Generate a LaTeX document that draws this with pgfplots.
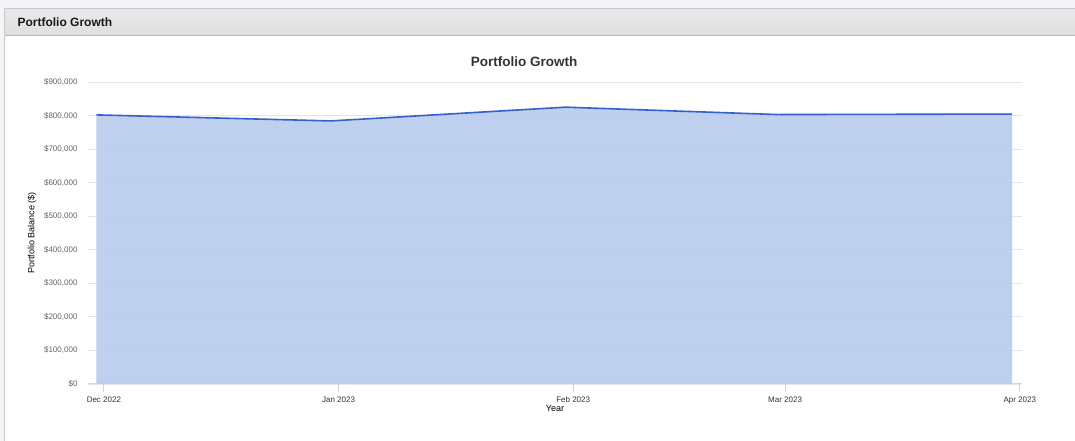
\documentclass[border=0pt]{standalone}
\usepackage{pgfplots}
\pgfplotsset{compat=1.18}
\usepackage{fontspec}
\setmainfont{Liberation Sans}
\definecolor{pagebg}{RGB}{244,245,249}
\definecolor{panelborder}{RGB}{200,200,200}
\definecolor{headtop}{RGB}{234,234,234}
\definecolor{headbot}{RGB}{222,222,222}
\definecolor{headline}{RGB}{185,185,185}
\definecolor{gridc}{RGB}{230,230,230}
\definecolor{axisc}{RGB}{204,214,235}
\definecolor{linec}{RGB}{51,96,204}
\definecolor{fillc}{RGB}{186,204,237}
\definecolor{labc}{RGB}{102,102,102}
\definecolor{titc}{RGB}{51,51,51}
\begin{document}
\begin{tikzpicture}[x=1pt,y=1pt]
% page and panel
\fill[pagebg] (0,0) rectangle (1075,441);
\fill[white] (4.5,0) rectangle (1075,432.5);
\shade[top color=headtop,bottom color=headbot] (4.5,405) rectangle (1075,432.5);
\draw[headline,line width=1pt] (4.5,405) -- (1075,405);
\draw[panelborder,line width=1pt] (4.5,0) -- (4.5,432.5) -- (1075,432.5);
\node[anchor=west,text=black!90,font=\fontsize{12}{14}\selectfont\bfseries] at (14,419) {Portfolio Growth};
\node[text=titc,font=\fontsize{13.5}{16}\selectfont\bfseries] at (524,379) {Portfolio Growth};
\begin{axis}[
  at={(88pt,57pt)}, anchor=south west,
  scale only axis,
  width=934pt, height=302pt,
  xmin=-2.1, xmax=121.3,
  ymin=0, ymax=900000,
  xtick={0,31,62,90,121},
  xticklabels={Dec 2022,Jan 2023,Feb 2023,Mar 2023,Apr 2023},
  ytick={0,100000,...,900000},
  scaled y ticks=false,
  yticklabels={{\$0},{\$100,000},{\$200,000},{\$300,000},{\$400,000},{\$500,000},{\$600,000},{\$700,000},{\$800,000},{\$900,000}},
  axis x line*=bottom,
  axis y line*=left,
  x axis line style={axisc,line width=1pt,-},
  y axis line style={draw=none},
  ymajorgrids,
  grid style={gridc,line width=0.8pt},
  xtick style={axisc,line width=0.8pt},
  ytick style={draw=none},
  major tick length=8pt,
  xtick align=outside,
  tick label style={font=\fontsize{8}{10}\selectfont},
  xticklabel style={text=titc,yshift=-1pt},
  yticklabel style={text=labc,xshift=-7pt},
  xlabel={Year},
  ylabel={Portfolio Balance (\$)},
  label style={font=\fontsize{9}{11}\selectfont,text=black},
  xlabel style={at={(axis description cs:0.5,-0.0795)},anchor=center},
  ylabel style={at={(axis description cs:-0.06,0.5)},anchor=center},
  clip=false,
]
\addplot[fill=fillc,fill opacity=0.92,draw=none] coordinates {
  (-1,802000) (30,784000) (61,825000) (89,803000) (120,804500)
} \closedcycle;
\addplot[linec,line width=1.6pt] coordinates {
  (-1,802000) (30,784000) (61,825000) (89,803000) (120,804500)
};
\end{axis}
\pgfresetboundingbox
\useasboundingbox (0,0) rectangle (1075,441);
\end{tikzpicture}
\end{document}
